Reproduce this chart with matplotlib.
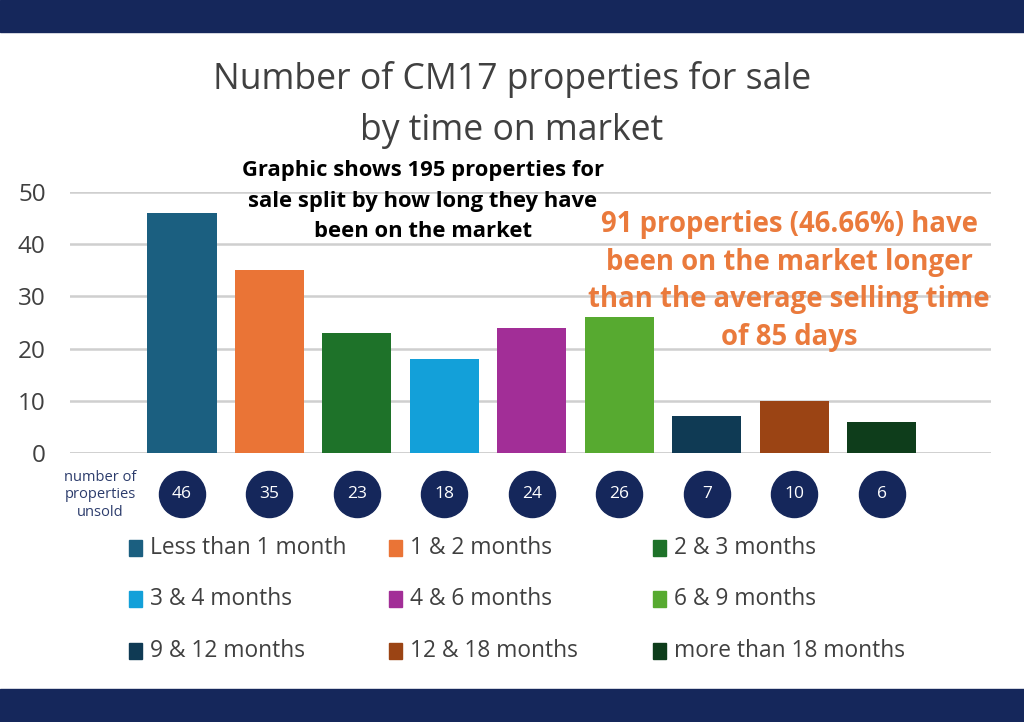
import numpy as np
import matplotlib
matplotlib.use("Agg")
from matplotlib import pyplot as plt
from matplotlib.patches import Rectangle

# data
categories = ['Less than 1 month', '1 & 2 months', '2 & 3 months',
              '3 & 4 months', '4 & 6 months', '6 & 9 months',
              '9 & 12 months', '12 & 18 months', 'more than 18 months']
unsold = [46, 35, 23, 18, 24, 26, 7, 10, 6]
bar_colors = ['#1b5f80', '#ea7436', '#1e7229', '#13a0d9', '#a22e97',
              '#57aa30', '#0f3a54', '#9b4414', '#0e3d1b']
y_ticks = [0, 10, 20, 30, 40, 50]

NAVY = '#15275b'
GREY = '#404040'

fig = plt.figure(figsize=(10.24, 7.22), dpi=100)
W, H = 1024, 722

def fx(px):
    return px / W

def fy(py):
    return 1 - py / H

# navy bands top and bottom
fig.patches.append(Rectangle((0, fy(32)), 1, 32 / H, transform=fig.transFigure, color=NAVY, zorder=0))
fig.patches.append(Rectangle((0, 0), 1, 33 / H, transform=fig.transFigure, color=NAVY, zorder=0))

# title
fig.text(0.5, fy(79), 'Number of CM17 properties for sale', ha='center', va='center',
         fontsize=25.6, color=GREY, family='Open Sans')
fig.text(0.5, fy(131), 'by time on market', ha='center', va='center',
         fontsize=25.6, color=GREY, family='Open Sans')

# main axes
ax = fig.add_axes([fx(70), fy(453), fx(991) - fx(70), (453 - 192) / H])
x = np.arange(len(unsold))
ax.bar(x, unsold, width=0.79, color=bar_colors, zorder=3)
ax.set_xlim(-1.28, 9.25)
ax.set_ylim(0, 50)
ax.set_yticks(y_ticks)
ax.set_yticklabels([str(t) for t in y_ticks], fontsize=17.5, color=GREY, family='Open Sans')
ax.tick_params(axis='y', length=0, pad=17.5)
ax.set_xticks([])
ax.grid(axis='y', color='#cfcfcf', linewidth=1.8, zorder=0)
for s in ax.spines.values():
    s.set_visible(False)
ax.axhline(0, color='#cfcfcf', linewidth=1.8, zorder=1)

# count circles under the bars
cy = -7.85
ax.scatter(x, [cy] * len(x), s=1100, color=NAVY, clip_on=False, zorder=4)
for xi, v in zip(x, unsold):
    ax.text(xi, cy, str(v), ha='center', va='center', color='white', fontsize=12.5,
            family='Open Sans', clip_on=False, zorder=5)
fig.text(fx(100), fy(495), 'number of\nproperties\nunsold', ha='center', va='center',
         fontsize=10.5, color='#2c3c6c', family='Open Sans', linespacing=1.2)

# annotations
fig.text(fx(423), fy(201), 'Graphic shows 195 properties for\nsale split by how long they have\nbeen on the market',
         ha='center', va='center', fontsize=15.8, fontweight='bold', color='black',
         family='Open Sans', linespacing=1.6)
fig.text(fx(789), fy(281), '91 properties (46.66%) have\nbeen on the market longer\nthan the average selling time\nof 85 days',
         ha='center', va='center', fontsize=19.8, fontweight='bold', color='#ea7a3c',
         family='Open Sans', linespacing=1.38)

# legend, row-major in 3 columns
col_x = [133, 393, 657]
row_y = [548, 599, 651]
for i, (lab, c) in enumerate(zip(categories, bar_colors)):
    r, k = divmod(i, 3)
    fig.patches.append(Rectangle((fx(col_x[k] - 4), fy(row_y[r] + 8)), 13 / W, 16 / H,
                                 transform=fig.transFigure, color=c))
    fig.text(fx(col_x[k] + 17), fy(row_y[r]), lab, ha='left', va='center',
             fontsize=16.4, color=GREY, family='Open Sans')

fig.savefig('out.png', dpi=100)
